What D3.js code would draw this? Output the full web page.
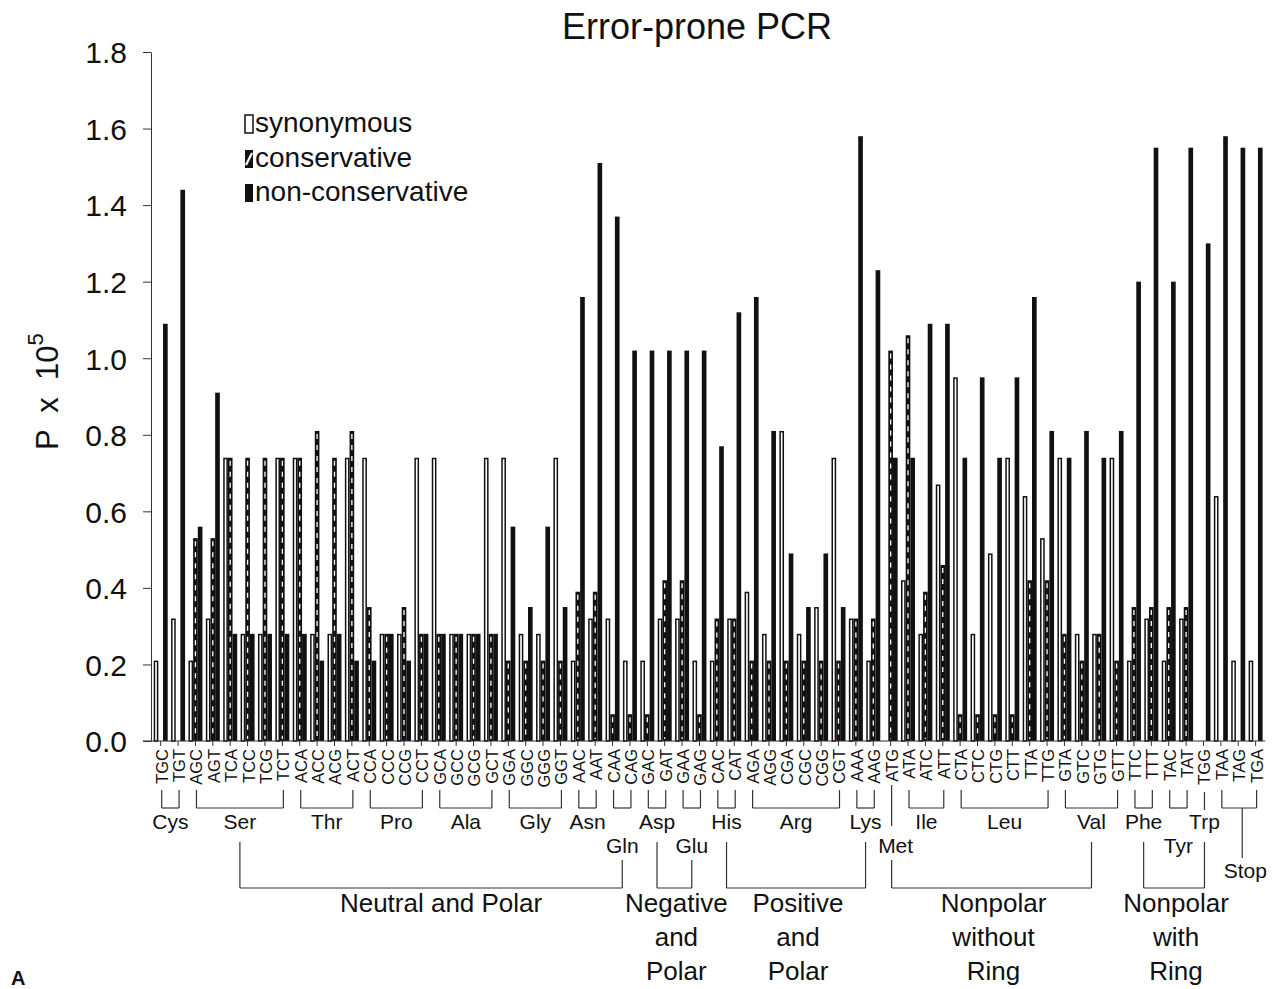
<!DOCTYPE html>
<html>
<head>
<meta charset="utf-8">
<script src="https://cdn.jsdelivr.net/npm/d3@7"></script>
<style>
  body { margin: 0; background: #fff; }
  text { font-family: "Liberation Sans", Arial, Helvetica, sans-serif; fill: #111; }
</style>
</head>
<body>
<script>
// ---------- data ----------
const codons = ["TGC","TGT","AGC","AGT","TCA","TCC","TCG","TCT","ACA","ACC","ACG","ACT",
  "CCA","CCC","CCG","CCT","GCA","GCC","GCG","GCT","GGA","GGC","GGG","GGT","AAC","AAT",
  "CAA","CAG","GAC","GAT","GAA","GAG","CAC","CAT","AGA","AGG","CGA","CGC","CGG","CGT",
  "AAA","AAG","ATG","ATA","ATC","ATT","CTA","CTC","CTG","CTT","TTA","TTG","GTA","GTC",
  "GTG","GTT","TTC","TTT","TAC","TAT","TGG","TAA","TAG","TGA"];

const synonymous = [0.21,0.32,0.21,0.32,0.74,0.28,0.28,0.74,0.74,0.28,0.28,0.74,
  0.74,0.28,0.28,0.74,0.74,0.28,0.28,0.74,0.74,0.28,0.28,0.74,0.21,0.32,
  0.32,0.21,0.21,0.32,0.32,0.21,0.21,0.32,0.39,0.28,0.81,0.28,0.35,0.74,
  0.32,0.21,0,0.42,0.28,0.67,0.95,0.28,0.49,0.74,0.64,0.53,0.74,0.28,
  0.28,0.74,0.21,0.32,0.21,0.32,0,0.64,0.21,0.21];

const conservative = [0,0,0.53,0.53,0.74,0.74,0.74,0.74,0.74,0.81,0.74,0.81,
  0.35,0.28,0.35,0.28,0.28,0.28,0.28,0.28,0.21,0.21,0.21,0.21,0.39,0.39,
  0.07,0.07,0.07,0.42,0.42,0.07,0.32,0.32,0.21,0.21,0.21,0.21,0.21,0.21,
  0.32,0.32,1.02,1.06,0.39,0.46,0.07,0.07,0.07,0.07,0.42,0.42,0.28,0.21,
  0.28,0.21,0.35,0.35,0.35,0.35,0,0,0,0];

const nonConservative = [1.09,1.44,0.56,0.91,0.28,0.28,0.28,0.28,0.28,0.21,0.28,0.21,
  0.21,0.28,0.21,0.28,0.28,0.28,0.28,0.28,0.56,0.35,0.56,0.35,1.16,1.51,
  1.37,1.02,1.02,1.02,1.02,1.02,0.77,1.12,1.16,0.81,0.49,0.35,0.49,0.35,
  1.58,1.23,0.74,0.74,1.09,1.09,0.74,0.95,0.74,0.95,1.16,0.81,0.74,0.81,
  0.74,0.81,1.20,1.55,1.20,1.55,1.30,1.58,1.55,1.55];

const aminoAcids = ["Cys","Ser","Thr","Pro","Ala","Gly","Asn","Gln","Asp","Glu","His",
  "Arg","Lys","Met","Ile","Leu","Val","Phe","Tyr","Trp","Stop"];
const aminoCounts = [2,6,4,4,4,4,2,2,2,2,2,6,2,1,3,6,4,2,2,1,3];

const classNames = ["Neutral and Polar","Negative\nand\nPolar","Positive\nand\nPolar",
  "Nonpolar\nwithout\nRing","Nonpolar\nwith\nRing"];
const classFirst = ["Ser","Asp","His","Met","Phe"];
const classLast  = ["Gln","Glu","Lys","Val","Trp"];

const yTicks = [0,0.2,0.4,0.6,0.8,1.0,1.2,1.4,1.6,1.8];
const seriesNames = ["synonymous","conservative","non-conservative"];
const seriesKeys = ["syn","cons","non"];
const title = "Error-prone PCR";

// ---------- layout ----------
const W = 1273, H = 989;
const svg = d3.select("body").append("svg").attr("width", W).attr("height", H);
const axisX = 151, baseY = 741, topY = 52;

const x = d3.scaleBand().domain(codons).range([151, 1265.3])
  .paddingInner(0.1945).paddingOuter(0.155);
const sub = d3.scaleBand().domain(seriesKeys).range([0, x.bandwidth()]);
const y = d3.scaleLinear().domain([0, 1.8]).range([baseY, topY]);

const rows = codons.map((c, i) => ({codon: c, syn: synonymous[i], cons: conservative[i], non: nonConservative[i]}));

// bars
const g = svg.append("g");
const groups = g.selectAll("g.codon").data(rows).join("g")
  .attr("transform", d => `translate(${x(d.codon)},0)`);

// synonymous (white outlined)
groups.filter(d => d.syn > 0).append("rect")
  .attr("x", sub("syn") + 0.75).attr("width", sub.bandwidth() - 1.5)
  .attr("y", d => y(d.syn) + 0.75).attr("height", d => y(0) - y(d.syn) - 0.75)
  .attr("fill", "#fff").attr("stroke", "#111").attr("stroke-width", 1.5);

// conservative (black with white dashed centre line)
const consG = groups.filter(d => d.cons > 0);
consG.append("rect")
  .attr("x", sub("cons")).attr("width", sub.bandwidth())
  .attr("y", d => y(d.cons)).attr("height", d => y(0) - y(d.cons))
  .attr("fill", "#111");
consG.append("line")
  .attr("x1", sub("cons") + sub.bandwidth() / 2).attr("x2", sub("cons") + sub.bandwidth() / 2)
  .attr("y1", d => y(d.cons) + 3).attr("y2", y(0) - 2)
  .attr("stroke", "#fff").attr("stroke-width", 1.3).attr("stroke-dasharray", "5,6");

// non-conservative (black)
groups.filter(d => d.non > 0).append("rect")
  .attr("x", sub("non")).attr("width", sub.bandwidth())
  .attr("y", d => y(d.non)).attr("height", d => y(0) - y(d.non))
  .attr("fill", "#111");

// y axis
const yAxisG = svg.append("g").attr("transform", `translate(${axisX},0)`)
  .call(d3.axisLeft(y).tickValues(yTicks).tickFormat(d3.format(".1f"))
    .tickSize(8).tickSizeOuter(0).tickPadding(16));
yAxisG.selectAll("text").style("font-size", "30px").attr("dy", "0.36em");
yAxisG.selectAll("line, path").attr("stroke", "#333").attr("stroke-width", 1);

// x axis
const xAxisG = svg.append("g").attr("transform", `translate(0,${baseY})`)
  .call(d3.axisBottom(x).tickSize(5).tickSizeOuter(0));
xAxisG.select(".domain").remove();
xAxisG.selectAll("line").attr("stroke", "#333");
xAxisG.selectAll("text")
  .attr("transform", "rotate(-90)").attr("x", -8).attr("y", 1).attr("dy", "0.36em")
  .style("text-anchor", "end").style("font-size", "16.5px");
svg.append("line").attr("x1", 143).attr("x2", 1265).attr("y1", baseY).attr("y2", baseY)
  .attr("stroke", "#333").attr("stroke-width", 1.2);

// y title
const yt = svg.append("text").attr("transform", "translate(58,450) rotate(-90)")
  .attr("text-anchor", "start").style("font-size", "31px");
yt.append("tspan").attr("xml:space", "preserve").text("P  x  10");
yt.append("tspan").attr("dy", -15).style("font-size", "22px").text("5");

// title
svg.append("text").attr("x", 697).attr("y", 39).attr("text-anchor", "middle")
  .style("font-size", "36px").text(title);

// legend
const leg = svg.append("g");
const legY = [115, 150, 184];
seriesKeys.forEach((k, i) => {
  const r = leg.append("rect").attr("x", 245).attr("y", legY[i]).attr("width", 8).attr("height", 18);
  if (k === "syn") r.attr("fill", "#fff").attr("stroke", "#111").attr("stroke-width", 1.5);
  else r.attr("fill", "#111");
  if (k === "cons") leg.append("line").attr("x1", 246).attr("y1", legY[i] + 15)
    .attr("x2", 252).attr("y2", legY[i] + 3).attr("stroke", "#fff").attr("stroke-width", 2.2);
  leg.append("text").attr("x", 255).attr("y", legY[i] + 17).style("font-size", "28px").text(seriesNames[i]);
});

// amino-acid brackets
const line = (x1, y1, x2, y2) => svg.append("line").attr("x1", x1).attr("y1", y1)
  .attr("x2", x2).attr("y2", y2).attr("stroke", "#333").attr("stroke-width", 1.2);
const cx = c => x(c) + x.bandwidth() / 2 + 1;
const aaRow = {Gln: 2, Glu: 2, Met: 2, Tyr: 2, Stop: 3};
const rowBase = {1: 829, 2: 853, 3: 878};
const aaMid = {};
let idx = 0;
aminoAcids.forEach((aa, k) => {
  const n = aminoCounts[k];
  const x1 = cx(codons[idx]), x2 = cx(codons[idx + n - 1]);
  idx += n;
  const mid = (x1 + x2) / 2;
  aaMid[aa] = mid;
  if (n === 1) {
    line(x1, aa === "Met" ? 785 : 792, x1, aa === "Met" ? 826 : 810);
  } else {
    line(x1, 790, x1, 808); line(x2, 790, x2, 808); line(x1, 808, x2, 808);
  }
  const row = aaRow[aa] || 1;
  if (aa === "Stop") line(mid + 3, 808, mid + 3, 858);
  svg.append("text").attr("x", aa === "Stop" ? mid + 6 : (aa === "Met" ? mid + 4 : mid))
    .attr("y", rowBase[row]).attr("text-anchor", "middle")
    .style("font-size", "21px").text(aa);
});

// class brackets
classNames.forEach((name, i) => {
  const a = classFirst[i], b = classLast[i];
  const xa = aaMid[a], xb = aaMid[b];
  const topA = (aaRow[a] || 1) === 1 ? 842 : 860;
  const topB = (aaRow[b] || 1) === 1 ? 842 : 860;
  line(xa, topA, xa, 888); line(xb, topB, xb, 888); line(xa, 888, xb, 888);
  const lines = name.split("\n");
  const mid = (xa + xb) / 2 + (lines.length === 1 ? 10 : 2);
  lines.forEach((t, j) => {
    svg.append("text").attr("x", mid).attr("y", 912 + j * 34)
      .attr("text-anchor", "middle").style("font-size", "26px").text(t);
  });
});

// panel letter
svg.append("text").attr("x", 11).attr("y", 985).style("font-size", "20px")
  .style("font-weight", "bold").text("A");
</script>
</body>
</html>
